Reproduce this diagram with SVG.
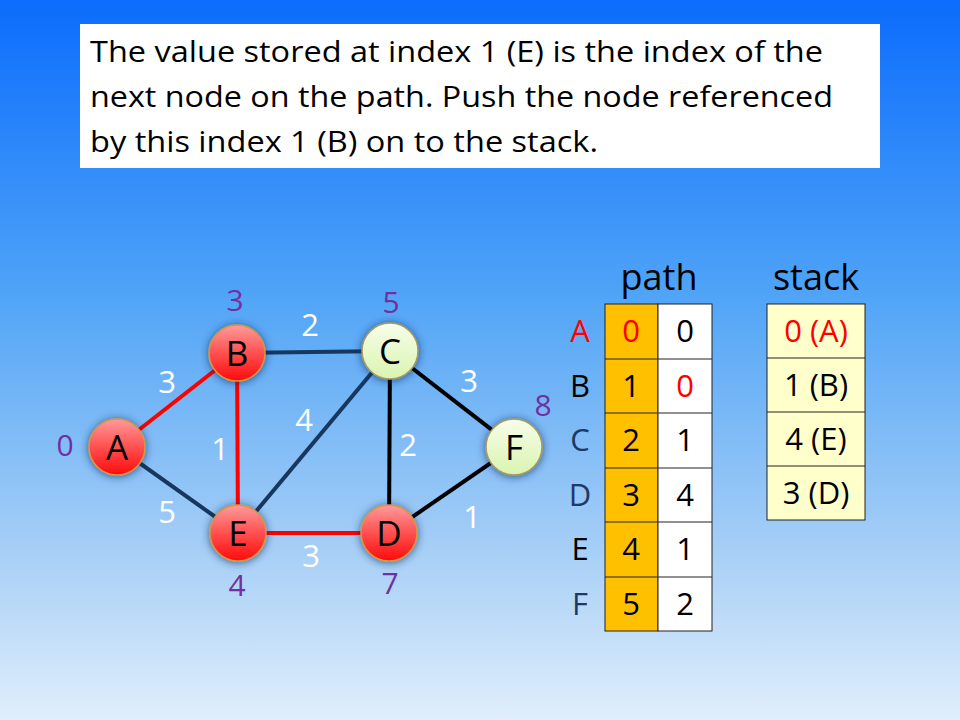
<svg xmlns="http://www.w3.org/2000/svg" width="960" height="720" viewBox="0 0 960 720">
<defs>
<linearGradient id="bg" x1="0" y1="0" x2="0" y2="1">
<stop offset="0" stop-color="#0b6cfd"/>
<stop offset="0.4" stop-color="#4ea3f7"/>
<stop offset="0.75" stop-color="#a3cdf6"/>
<stop offset="1" stop-color="#e0eefb"/>
</linearGradient>
<linearGradient id="red" x1="0" y1="0" x2="0" y2="1">
<stop offset="0" stop-color="#ff9a9a"/>
<stop offset="0.5" stop-color="#ff5050"/>
<stop offset="1" stop-color="#ff0a0a"/>
</linearGradient>
<linearGradient id="green" x1="0" y1="0" x2="0" y2="1">
<stop offset="0" stop-color="#f7fde9"/>
<stop offset="1" stop-color="#daf4b0"/>
</linearGradient>
<filter id="glow" x="-50%" y="-50%" width="200%" height="200%">
<feGaussianBlur in="SourceAlpha" stdDeviation="4"/>
<feOffset dx="0" dy="1" result="b"/>
<feFlood flood-color="#0a2a5a" flood-opacity="0.7"/>
<feComposite in2="b" operator="in"/>
<feMerge><feMergeNode/><feMergeNode in="SourceGraphic"/></feMerge>
</filter>
</defs>
<style>
text{font-family:"Open Sans","Liberation Sans",sans-serif;}
.red circle{fill:url(#red);stroke:#d9953f;stroke-width:1.5;}
.grn circle{fill:url(#green);stroke:#a89a5e;stroke-width:1.5;}
.nl{font-size:35px;fill:#000;text-anchor:middle;}
.wt{font-size:30px;fill:#7030a0;text-anchor:middle;}
.el{font-size:31px;fill:#fff;text-anchor:middle;}
.e{stroke-width:4;fill:none;}
.er{stroke:#ff0000;}
.en{stroke:#17375e;}
.eb{stroke:#000;}
.cell{stroke:#222;stroke-width:1;}
.o{fill:#ffc000;}
.w{fill:#fff;}
.s{fill:#ffffcc;}
.t{font-size:31px;text-anchor:middle;fill:#000;}
.hd{font-size:36px;text-anchor:middle;fill:#000;}
</style>
<rect x="0" y="0" width="960" height="720" fill="url(#bg)"/>
<g id="caption">
<rect x="80" y="24" width="800" height="144" fill="#fff"/>
<text x="90" y="62" font-size="29" textLength="733" lengthAdjust="spacingAndGlyphs">The value stored at index 1 (E) is the index of the</text>
<text x="90" y="107" font-size="29" textLength="743" lengthAdjust="spacingAndGlyphs">next node on the path. Push the node referenced</text>
<text x="90" y="152" font-size="29" textLength="508" lengthAdjust="spacingAndGlyphs">by this index 1 (B) on to the stack.</text>
</g>
<g id="connectors">
<line class="e er" x1="117" y1="447" x2="237" y2="353"/>
<line class="e en" x1="117" y1="447" x2="238" y2="533"/>
<line class="e en" x1="237" y1="353" x2="390" y2="351"/>
<line class="e er" x1="237" y1="353" x2="238" y2="533"/>
<line class="e en" x1="238" y1="533" x2="390" y2="351"/>
<line class="e er" x1="238" y1="533" x2="389" y2="533"/>
<line class="e eb" x1="390" y1="351" x2="389" y2="533"/>
<line class="e eb" x1="390" y1="351" x2="514" y2="447"/>
<line class="e eb" x1="389" y1="533" x2="514" y2="447"/>
<text class="el" x="167" y="393">3</text>
<text class="el" x="220" y="460">1</text>
<text class="el" x="167" y="523">5</text>
<text class="el" x="310" y="336">2</text>
<text class="el" x="304" y="431">4</text>
<text class="el" x="408" y="456">2</text>
<text class="el" x="469" y="392">3</text>
<text class="el" x="472" y="528">1</text>
<text class="el" x="311" y="567">3</text>
</g>
<g id="node-A" class="red">
<circle cx="117" cy="447" r="28" filter="url(#glow)"/>
<text class="nl" x="117" y="460">A</text>
<text class="wt" x="65" y="456">0</text>
</g>
<g id="node-B" class="red">
<circle cx="237" cy="353" r="28" filter="url(#glow)"/>
<text class="nl" x="237" y="366">B</text>
<text class="wt" x="235" y="311">3</text>
</g>
<g id="node-C" class="grn">
<circle cx="390" cy="351" r="28" filter="url(#glow)"/>
<text class="nl" x="390" y="364">C</text>
<text class="wt" x="391" y="313">5</text>
</g>
<g id="node-D" class="red">
<circle cx="389" cy="533" r="28" filter="url(#glow)"/>
<text class="nl" x="389" y="546">D</text>
<text class="wt" x="390" y="594">7</text>
</g>
<g id="node-E" class="red">
<circle cx="238" cy="533" r="28" filter="url(#glow)"/>
<text class="nl" x="238" y="546">E</text>
<text class="wt" x="237" y="596">4</text>
</g>
<g id="node-F" class="grn">
<circle cx="514" cy="447" r="28" filter="url(#glow)"/>
<text class="nl" x="514" y="460">F</text>
<text class="wt" x="543" y="416">8</text>
</g>
<g id="path-table">
<text class="hd" x="659" y="290">path</text>
<rect class="cell o" x="605" y="304" width="53" height="327"/>
<rect class="cell w" x="658" y="304" width="54" height="327"/>
<g class="cell">
<line x1="605" y1="359" x2="712" y2="359"/>
<line x1="605" y1="413" x2="712" y2="413"/>
<line x1="605" y1="468" x2="712" y2="468"/>
<line x1="605" y1="522" x2="712" y2="522"/>
<line x1="605" y1="577" x2="712" y2="577"/>
</g>
<text class="t" x="580" y="342" style="fill:#ff0000">A</text>
<text class="t" x="580" y="397">B</text>
<text class="t" x="580" y="451" style="fill:#1f3864">C</text>
<text class="t" x="580" y="506" style="fill:#1f3864">D</text>
<text class="t" x="580" y="560">E</text>
<text class="t" x="580" y="615" style="fill:#1f3864">F</text>
<text class="t" x="631" y="342" style="fill:#ff0000">0</text>
<text class="t" x="631" y="397">1</text>
<text class="t" x="631" y="451">2</text>
<text class="t" x="631" y="506">3</text>
<text class="t" x="631" y="560">4</text>
<text class="t" x="631" y="615">5</text>
<text class="t" x="685" y="342">0</text>
<text class="t" x="685" y="397" style="fill:#ff0000">0</text>
<text class="t" x="685" y="451">1</text>
<text class="t" x="685" y="506">4</text>
<text class="t" x="685" y="560">1</text>
<text class="t" x="685" y="615">2</text>
</g>
<g id="stack">
<text class="hd" x="816" y="290">stack</text>
<rect class="cell s" x="767" y="304" width="98" height="216"/>
<g class="cell">
<line x1="767" y1="358" x2="865" y2="358"/>
<line x1="767" y1="412" x2="865" y2="412"/>
<line x1="767" y1="466" x2="865" y2="466"/>
</g>
<text class="t" x="816" y="342" style="fill:#ff0000">0 (A)</text>
<text class="t" x="816" y="396">1 (B)</text>
<text class="t" x="816" y="450">4 (E)</text>
<text class="t" x="816" y="504">3 (D)</text>
</g>
</svg>
